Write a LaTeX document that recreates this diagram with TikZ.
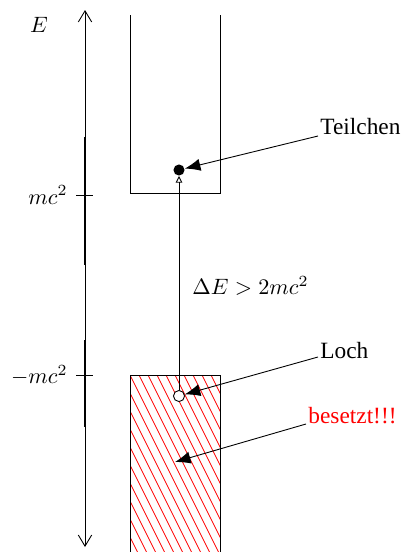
\documentclass[tikz,border=0pt]{standalone}
\usepackage{fontspec}
\setmainfont{Liberation Serif}
\usetikzlibrary{arrows.meta}
\tikzset{
  bigarrow/.style={-{Latex[length=7pt,width=5.5pt]}},
  axisarrow/.style={{Straight Barb[length=5pt,width=6pt]}-{Straight Barb[length=5pt,width=6pt]}},
  lbl/.style={inner sep=0pt, font=\fontsize{10.5}{12}\selectfont},
  mlbl/.style={inner sep=0pt},
  hatch/.style={red, line width=0.4pt},
}
\begin{document}
\begin{tikzpicture}[x=0.45pt,y=-0.45pt]
\useasboundingbox (0,0) rectangle (401,552);
% axis
\coordinate (axtop) at (85,10);
\coordinate (axbot) at (85,547);
\draw[axisarrow] (axtop) -- (axbot);
\draw[line width=1pt] (85,137) -- (85,265);
\draw[line width=1pt] (85,340) -- (85,427);
\coordinate (t1a) at (76,195); \coordinate (t1b) at (93,195);
\coordinate (t2a) at (76,375); \coordinate (t2b) at (93,375);
\draw (t1a) -- (t1b);
\draw (t2a) -- (t2b);
\node[mlbl] (E) at (39,25) {$E$};
\node[mlbl, anchor=east] (mc) at (68,195) {$mc^2$};
\node[mlbl, anchor=east] (mmc) at (68,375) {$-mc^2$};
% upper band
\draw (130,15) -- (130,193) -- (220,193) -- (220,15);
% lower band with hatching
\begin{scope}
  \clip (130,375) rectangle (220,552);
  \foreach \i in {-230,-221,...,230} {
    \draw[hatch] (\i,375) -- (\i+100,575);
  }
\end{scope}
\draw (130,552) -- (130,375) -- (220,375) -- (220,552);
% particle and hole
\node[circle, fill=black, inner sep=0pt, minimum size=5pt] (dot) at (179,170) {};
\node[circle, draw, fill=white, inner sep=0pt, minimum size=5pt] (hole) at (179,396) {};
\draw[-{Triangle[open,length=3pt,width=3pt]}] (hole) -- (dot);
\node[mlbl, anchor=west] (dE) at (192,286) {$\Delta E > 2mc^2$};
% labels
\node[lbl, anchor=west] (teil) at (320,127) {Teilchen};
\node[lbl, anchor=west] (loch) at (320,351) {Loch};
\node[lbl, anchor=west, text=red] (bes) at (308,416) {besetzt!!!};
\coordinate (teilstart) at (318,136);
\coordinate (lochstart) at (318,357);
\coordinate (besstart) at (306,424);
\coordinate (besend) at (175,462);
\draw[bigarrow] (teilstart) -- (dot);
\draw[bigarrow] (lochstart) -- (hole);
\draw[bigarrow] (besstart) -- (besend);
\end{tikzpicture}
\end{document}
